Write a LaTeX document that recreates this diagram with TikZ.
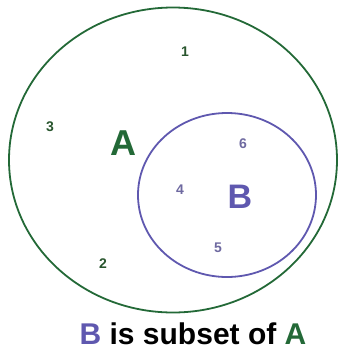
\documentclass[tikz,border=0pt]{standalone}
\usepackage{fontspec}
\usetikzlibrary{shapes.geometric}
\setmainfont{Liberation Sans}
\definecolor{setgreen}{RGB}{35,105,55}
\definecolor{setpurple}{RGB}{95,88,175}
\definecolor{numgreen}{RGB}{40,85,45}
\definecolor{numpurple}{RGB}{110,105,160}
\tikzset{
  setline/.style={line width=1.8pt},
  numlabel/.style={font=\fontsize{14}{14}\selectfont\bfseries, inner sep=0pt},
  setname/.style={font=\fontsize{36}{36}\selectfont\bfseries, inner sep=0pt},
}
\begin{document}
\begin{tikzpicture}[x=1pt,y=-1pt]
\useasboundingbox (0,0) rectangle (339,354);
\node[draw=setgreen, setline, ellipse, minimum width=328pt, minimum height=305pt, inner sep=0pt] (setA) at (173,160) {};
\node[draw=setpurple, setline, ellipse, minimum width=178pt, minimum height=164pt, inner sep=0pt] (setB) at (227,195) {};
\node[setname, text=setgreen] (labA) at (123,143) {A};
\node[setname, text=setpurple, font=\fontsize{34}{34}\selectfont\bfseries] (labB) at (240,197) {B};
\node[numlabel, text=numgreen] (n1) at (185,52) {1};
\node[numlabel, text=numgreen] (n3) at (50,127) {3};
\node[numlabel, text=numgreen] (n2) at (103,264) {2};
\node[numlabel, text=numpurple] (n6) at (243,144) {6};
\node[numlabel, text=numpurple] (n4) at (180,190) {4};
\node[numlabel, text=numpurple] (n5) at (218,248) {5};
\node[anchor=base, inner sep=0pt, font=\fontsize{30}{30}\selectfont\bfseries] (cap) at (193,344) {\textcolor{setpurple}{B} is subset of \textcolor{setgreen}{A}};
\end{tikzpicture}
\end{document}
